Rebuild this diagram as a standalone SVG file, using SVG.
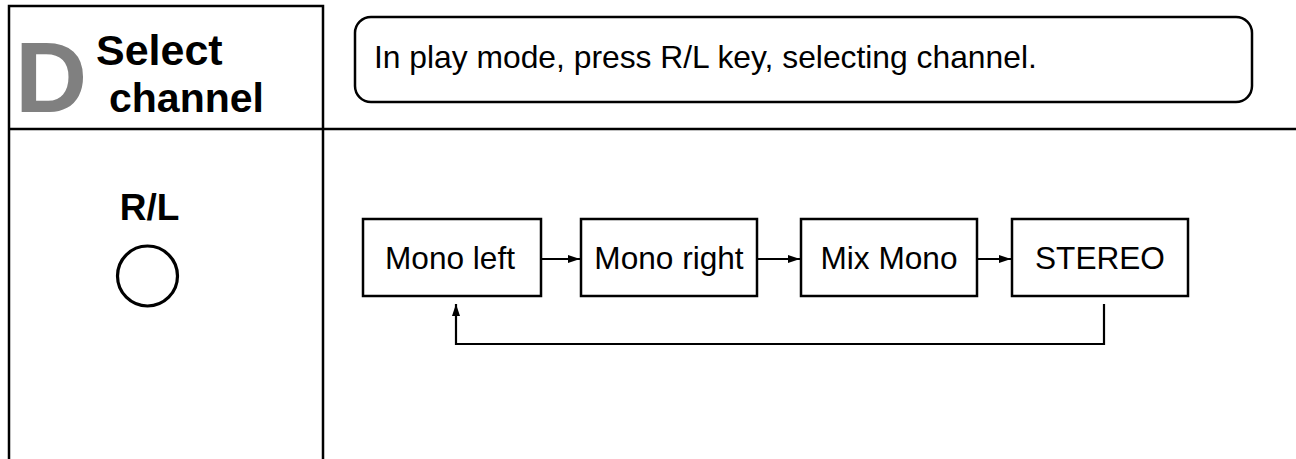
<svg xmlns="http://www.w3.org/2000/svg" width="1296" height="459" viewBox="0 0 1296 459">
<style>
.frame{stroke:#000;stroke-width:2.5;fill:none}
.box{stroke:#000;stroke-width:2.5;fill:#fff}
.conn{stroke:#000;stroke-width:2.2;fill:none}
.lbl{font-family:"Liberation Sans",Arial,sans-serif;font-size:31.6px;fill:#000}
.bold{font-family:"Liberation Sans",Arial,sans-serif;font-weight:bold;fill:#000}
</style>
<defs>
<marker id="ah" markerUnits="userSpaceOnUse" markerWidth="13" markerHeight="9" refX="12" refY="4" orient="auto">
<path d="M0,0 L12,4 L0,8 z" fill="#000"/>
</marker>
</defs>
<rect width="1296" height="459" fill="#fff"/>
<g id="frame">
<path class="frame" d="M9,459 V6 H323 V459"/>
<path class="frame" d="M9,129 H1296"/>
</g>
<g id="title">
<text x="15" y="112" class="bold" font-size="100" style="fill:#808080">D</text>
<text x="96" y="65" class="bold" font-size="43">Select</text>
<text x="109" y="112" class="bold" font-size="41">channel</text>
</g>
<g id="instruction">
<rect class="box" x="355" y="17" width="897" height="85" rx="16"/>
<text x="374" y="68" class="lbl" style="font-size:31.8px">In play mode, press R/L key, selecting channel.</text>
</g>
<g id="key">
<text x="149.5" y="220" class="bold" font-size="37" text-anchor="middle">R/L</text>
<circle cx="147.5" cy="276" r="30" fill="none" stroke="#000" stroke-width="3.2"/>
</g>
<g id="mono-left">
<rect class="box" x="363" y="219" width="178" height="77"/>
<text x="450" y="269" class="lbl" text-anchor="middle">Mono left</text>
</g>
<g id="mono-right">
<rect class="box" x="581" y="219" width="176" height="77"/>
<text x="669" y="269" class="lbl" text-anchor="middle">Mono right</text>
</g>
<g id="mix-mono">
<rect class="box" x="801" y="219" width="176" height="77"/>
<text x="889" y="269" class="lbl" text-anchor="middle">Mix Mono</text>
</g>
<g id="stereo">
<rect class="box" x="1012" y="219" width="176" height="77"/>
<text x="1100" y="269" class="lbl" text-anchor="middle">STEREO</text>
</g>
<g id="connectors">
<path class="conn" d="M542,259 H580" marker-end="url(#ah)"/>
<path class="conn" d="M758,259 H800" marker-end="url(#ah)"/>
<path class="conn" d="M978,259 H1011" marker-end="url(#ah)"/>
<path class="conn" d="M1104,304 V344 H456 V304" marker-end="url(#ah)"/>
</g>
</svg>
